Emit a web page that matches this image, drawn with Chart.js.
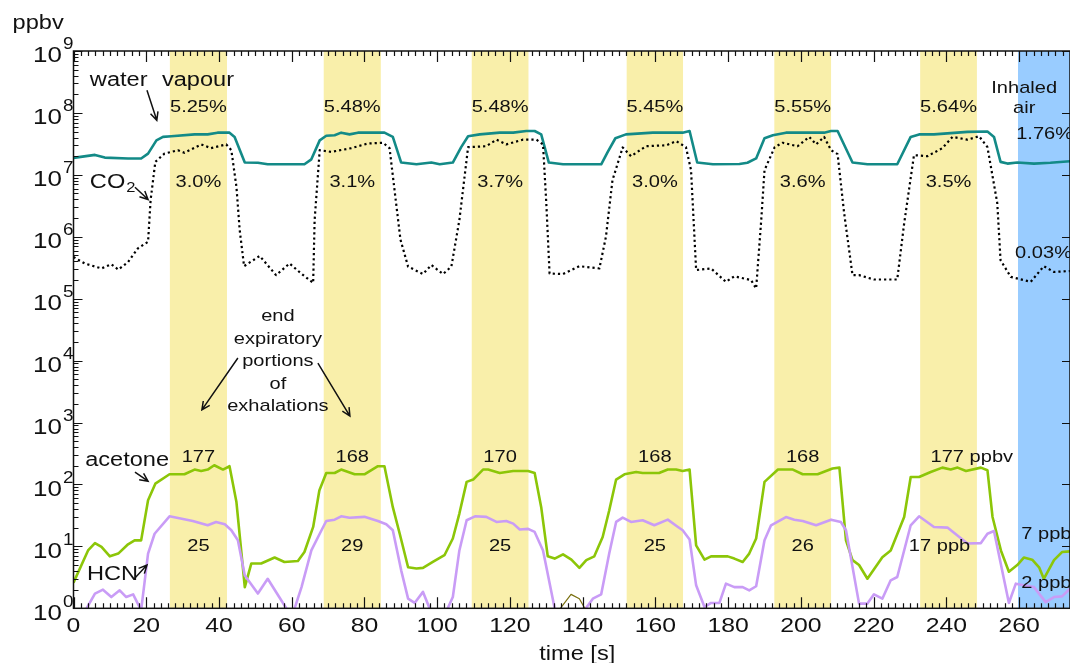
<!DOCTYPE html>
<html>
<head>
<meta charset="utf-8">
<script src="https://cdn.jsdelivr.net/npm/chart.js@4.4.1/dist/chart.umd.min.js"></script>
<style>
  html, body { margin: 0; padding: 0; background: #fff; }
</style>
</head>
<body>
<canvas id="myChart" width="1070" height="663"></canvas>
<script>
// time [s] and ppbv
const waterT = [0,5.9,8.6,15.0,18.6,20.5,22.8,24.6,26.9,33.3,36.9,39.6,42.9,44.3,47.1,50.7,53.4,63.5,65.4,67.7,69.5,71.8,73.6,75.9,78.2,85.5,87.8,90.1,94.3,98.4,100.7,104.3,106.6,108.5,111.7,117.2,120.9,124.5,126.8,128.6,130.7,134.6,145.1,146.9,149.0,151.9,159.3,167.5,169.4,171.5,175.8,183.1,185.3,187.7,190.0,192.3,195.9,206.4,208.3,210.1,214.2,218.3,226.5,230.2,232.5,236.6,245.8,251.3,253.1,254.9,256.8,259.5,264.1,268.6,274]
const waterV = [1.88e7,2.1e7,1.9e7,1.84e7,1.84e7,2.2e7,3.6e7,4.1e7,4.2e7,4.5e7,4.5e7,4.8e7,4.8e7,4.1e7,1.58e7,1.57e7,1.48e7,1.48e7,1.78e7,3.6e7,4.27e7,4.35e7,4.8e7,4.5e7,4.8e7,4.8e7,4.1e7,1.58e7,1.48e7,1.58e7,1.48e7,1.58e7,2.8e7,4.2e7,4.5e7,4.8e7,4.8e7,5.1e7,5.1e7,4.5e7,1.58e7,1.48e7,1.48e7,2.35e7,3.9e7,4.5e7,4.8e7,4.8e7,5.1e7,1.58e7,1.48e7,1.5e7,1.57e7,1.84e7,3.9e7,4.35e7,4.8e7,4.8e7,5.1e7,5.1e7,1.58e7,1.48e7,1.48e7,4.1e7,4.5e7,4.5e7,4.95e7,5.0e7,4.1e7,1.62e7,1.52e7,1.58e7,1.52e7,1.57e7,1.66e7]

const co2T = [0,3.1,7.7,10.4,12.3,15.0,17.7,20.5,21.2,22.5,25.0,28.7,30.5,35.1,37.8,42.0,43.4,44.8,45.7,46.9,51.2,55.7,59.4,62.6,65.9,66.3,67.7,70.9,76.4,80.9,85.1,86.9,88.7,89.9,92.0,96.1,98.4,101.6,103.9,106.1,108.5,113.5,116.3,119.0,123.6,127.3,129.1,130.0,130.9,134.6,139.1,144.6,146.4,148.2,151.0,153.3,157.4,163.0,165.7,168.4,169.8,171.2,175.3,179.4,181.7,186.3,187.7,189.1,190.0,192.8,195.0,199.1,202.3,204.2,206.4,208.3,210.1,211.9,214.2,216.0,220.1,226.5,228.4,231.1,234.8,238.9,241.7,245.8,249.0,251.3,254.0,254.9,257.7,263.2,266.8,269.6,274]
const co2V = [4.7e5,3.7e5,3.08e5,3.6e5,2.95e5,3.9e5,6.5e5,8.3e5,3.9e6,1.62e7,2.2e7,2.5e7,2.27e7,3.1e7,2.7e7,3.1e7,2.5e7,6.4e6,1.28e6,3.35e5,4.9e5,2.4e5,3.7e5,2.55e5,1.8e5,1.86e6,2.5e7,2.35e7,2.7e7,3.2e7,3.3e7,2.7e7,3.5e6,9e5,3.3e5,2.5e5,3.5e5,2.5e5,3.3e5,1.86e6,2.8e7,2.9e7,3.7e7,3.1e7,3.7e7,3.7e7,3.1e7,3.5e6,2.55e5,2.5e5,3.35e5,3.08e5,1.0e6,8.2e6,2.77e7,2.0e7,2.9e7,3.0e7,3.5e7,2.8e7,1.19e7,2.9e5,3.08e5,1.87e5,2.3e5,2.0e5,1.46e5,1.86e6,1.19e7,2.8e7,3.3e7,2.9e7,4.1e7,3.1e7,4.1e7,2.5e7,2.16e7,2.4e6,2.4e5,2.4e5,2.04e5,2.04e5,1.64e6,2.08e7,2.0e7,2.7e7,4.1e7,3.7e7,4.2e7,2.8e7,3.5e6,4.2e5,2.25e5,1.87e5,3.35e5,2.7e5,2.8e5]

const acetoneT = [0,4.0,5.9,7.7,10.0,12.3,15.0,16.8,18.6,20.5,22.5,26.4,30.5,33.3,35.1,36.9,38.7,41.1,42.9,44.8,47.1,48.9,51.6,55.3,58.0,61.7,63.5,65.9,67.6,69.5,71.8,73.6,77.3,80.0,83.7,85.5,87.8,89.7,92.0,94.3,96.1,98.8,102.0,104.3,106.1,108.1,109.9,112.6,114.0,117.2,120.9,125.0,126.8,128.6,130.4,132.3,134.6,136.9,139.1,141.0,143.2,145.5,147.3,149.2,151.5,154.7,156.5,161.0,163.4,165.7,167.5,169.4,171.2,173.5,175.3,179.9,181.7,184.0,185.8,187.7,190.0,193.7,197.8,200.5,204.6,208.7,210.6,212.4,214.2,216.0,218.3,222.4,224.7,228.4,230.2,232.5,235.7,238.9,241.2,243.1,245.4,249.5,251.3,252.7,255.0,257.2,259.5,261.3,263.6,265.5,266.8,269.6,271.8,274]
const acetoneV = [2.6,8.6,11.3,9.8,6.9,7.65,10.8,12.5,12.5,55.6,103,146,146,174,165,174,204,174,197,52,2.2,5.3,5.3,6.6,5.6,5.8,8.1,20.6,80,153,153,174,146,146,197,197,43,16,4.6,4.4,4.5,5.6,7.2,13.4,33.9,110,120,174,174,153,165,165,153,43,6.9,6.35,7.45,6.1,4.5,6.0,6.9,14.2,38,120,146,159,153,153,174,174,165,174,10.4,6.1,6.9,6.9,6.35,5.6,7.65,13.4,110,174,174,146,146,181,187,12.5,6.0,5.0,3.0,6.7,8.6,29.8,132,132,159,187,174,187,165,187,170,29.8,8.6,3.9,5.0,6.6,6.1,4.6,3.0,6.0,8.1,8.3]

const hcnT = [2.5,3.4,5.9,8.1,10.4,12.7,14.5,16.4,18.6,20.5,22.3,26.4,32.8,36.9,39.2,41.6,43.4,45.2,47.1,50.7,53.4,58.5,59.7,60.8,62.7,65.4,67.7,69.5,71.8,73.6,75.9,80.0,83.7,86.0,87.8,90.1,92.0,93.8,96.1,97.9,100.5,102.9,104.3,106.1,108.1,110.4,113.5,116.3,119.0,120.9,122.7,125.0,126.8,129.1,132.3,137.0,140.9,142.8,145.1,147.3,149.2,151.0,153.3,156.5,159.7,163.4,166.2,167.5,169.4,171.2,173.5,175.3,177.6,179.4,181.7,184.0,185.8,187.7,190.0,191.8,195.9,198.2,200.5,204.2,208.3,211.0,212.4,216.0,218.3,220.1,222.4,224.7,226.5,230.2,232.5,236.6,240.3,245.8,249.5,251.3,253.1,257.2,259.1,261.3,264.1,267.3,269.6,271.8,274]
const hcnV = [0.6,0.95,1.73,2.0,1.52,1.95,1.52,1.68,0.93,7.65,16,30.6,25.7,21.9,24.8,22.7,18.2,12.6,3.4,1.73,3.0,1.0,0.8,1.0,2.2,8.6,16,25.7,27,30.6,29,30,25.7,22.7,18.2,4.1,1.43,1.22,1.84,1.0,0.7,1.0,1.52,8.6,26.4,30.6,30,24.8,25.7,23.3,18.7,19.2,17.1,8.6,1.0,0.6,1.0,1.43,1.68,7.65,24.8,29.2,24.8,26.4,21.9,27,20.6,18.2,12.9,2.35,1.05,1.22,1.22,2.5,2.2,2.2,1.95,2.27,12.6,21.9,29.8,27,25.7,21.9,27,24.8,18.2,1.19,1.19,1.68,1.43,2.83,3.2,21.9,30.6,20.6,20.1,11.1,11.3,16,17.7,1.22,2.5,2.35,2.2,1.26,1.52,1.56,2.08]

const oliveT = [133.6,136.8,139.1,140.8]
const oliveV = [0.95,1.68,1.43,0.95]

// end expiratory portions and inhaled air
const bandStart = [26.5,68.8,109.5,152.1,192.7,232.8]
const bandEnd = [42.2,84.5,125.1,167.6,208.3,248.4]
const inhaled = [259.7,274]

const waterPct = ['5.25%','5.48%','5.48%','5.45%','5.55%','5.64%']
const co2Pct = ['3.0%','3.1%','3.7%','3.0%','3.6%','3.5%']
const acetoneLbl = ['177','168','170','168','168','177 ppbv']
const hcnLbl = ['25','29','25','25','26','17 ppb']

const xTicks = [0,20,40,60,80,100,120,140,160,180,200,220,240,260]
const yExps = [0,1,2,3,4,5,6,7,8,9]

const FONT = '"Liberation Sans", Arial, sans-serif'
const SX = 1.18

function pts(t, v) { return t.map((x, i) => ({x: x, y: v[i]})) }

function txt(ctx, s, x, y, size, align) {
    ctx.save()
    ctx.font = size + 'px ' + FONT
    ctx.textAlign = 'left'
    ctx.textBaseline = 'alphabetic'
    const w = ctx.measureText(s).width * SX
    let x0 = x
    if (align == 'center') x0 = x - w / 2
    if (align == 'right') x0 = x - w
    ctx.translate(x0, y + size * 0.36)
    ctx.scale(SX, 1)
    ctx.fillText(s, 0, 0)
    ctx.restore()
    return w
}

function arrow(ctx, x1, y1, x2, y2) {
    const a = Math.atan2(y2 - y1, x2 - x1)
    ctx.beginPath()
    ctx.moveTo(x1, y1); ctx.lineTo(x2, y2)
    ctx.moveTo(x2 - 9 * Math.cos(a - 0.45), y2 - 9 * Math.sin(a - 0.45))
    ctx.lineTo(x2, y2)
    ctx.lineTo(x2 - 9 * Math.cos(a + 0.45), y2 - 9 * Math.sin(a + 0.45))
    ctx.stroke()
}

const notes = [
    {s: 'water', t: 4.5, v: 3.6e8, size: 20},
    {s: 'vapour', t: 24.3, v: 3.6e8, size: 20},
    {s: 'acetone', t: 3.2, v: 257, size: 20},
    {s: 'HCN', t: 3.7, v: 3.72, size: 20},
    {s: 'Inhaled', t: 261.4, v: 2.59e8, size: 17, align: 'center'},
    {s: 'air', t: 261.4, v: 1.23e8, size: 17, align: 'center'},
    {s: '1.76%', t: 259.2, v: 4.7e7, size: 17},
    {s: '0.03%', t: 258.9, v: 5.8e5, size: 17},
    {s: '7 ppb', t: 260.6, v: 16.4, size: 17},
    {s: '2 ppb', t: 260.6, v: 2.66, size: 17}
]
const endLines = ['end','expiratory','portions','of','exhalations']
const arrows = [
    [20.2, 2.32e8, 22.9, 7.6e7],
    [16.9, 6.3e6, 20.5, 4.0e6],
    [45.2, 1.1e4, 35.3, 1.6e3],
    [67.2, 9.1e3, 76.0, 1.27e3],
    [16.9, 158, 20.5, 113],
    [16.9, 3.08, 20.2, 5.0]
]

const decor = {
    id: 'decor',
    beforeDatasetsDraw(chart) {
        const ctx = chart.ctx, a = chart.chartArea, x = chart.scales.x
        ctx.save()
        ctx.fillStyle = '#f9efaa'
        bandStart.forEach((s, i) => {
            const x1 = x.getPixelForValue(s), x2 = x.getPixelForValue(bandEnd[i])
            ctx.fillRect(x1, a.top, x2 - x1, a.bottom - a.top)
        })
        ctx.fillStyle = '#99ccff'
        const b1 = x.getPixelForValue(inhaled[0]), b2 = x.getPixelForValue(inhaled[1])
        ctx.fillRect(b1, a.top, b2 - b1, a.bottom - a.top)
        ctx.restore()
    },
    afterDatasetsDraw(chart) {
        const ctx = chart.ctx, a = chart.chartArea, x = chart.scales.x, y = chart.scales.y
        ctx.save()
        ctx.strokeStyle = '#111'
        ctx.fillStyle = '#111'
        ctx.lineWidth = 1.5

        // frame
        ctx.strokeRect(a.left, a.top, a.right - a.left, a.bottom - a.top)

        // x ticks, bottom and top, pointing inward
        ctx.lineWidth = 1.2
        ctx.beginPath()
        for (let t = 0; t <= 274; t += 2) {
            const px = Math.round(x.getPixelForValue(t)) + 0.5
            const len = t % 20 == 0 ? 11 : 5
            ctx.moveTo(px, a.bottom); ctx.lineTo(px, a.bottom - len)
            ctx.moveTo(px, a.top); ctx.lineTo(px, a.top + len)
        }
        // y ticks, left (major+minor) and right (major)
        for (let e = 0; e <= 9; e++) {
            for (let m = 1; m <= 9; m++) {
                if (e == 9 && m > 1) break
                const py = Math.round(y.getPixelForValue(m * Math.pow(10, e))) + 0.5
                const len = m == 1 ? 9 : 5
                ctx.moveTo(a.left, py); ctx.lineTo(a.left + len, py)
                if (m == 1) { ctx.moveTo(a.right, py); ctx.lineTo(a.right - 8, py) }
            }
        }
        ctx.stroke()

        // tick labels
        xTicks.forEach(t => txt(ctx, String(t), x.getPixelForValue(t), a.bottom + 16, 21, 'center'))
        yExps.forEach(e => {
            const py = y.getPixelForValue(Math.pow(10, e))
            txt(ctx, '10', a.left - 11.5, py + 3.5, 22, 'right')
            txt(ctx, String(e), a.left - 10.5, py - 7.5, 16, 'left')
        })
        txt(ctx, 'time [s]', x.getPixelForValue(138.5), a.bottom + 44, 20, 'center')
        txt(ctx, 'ppbv', a.left - 61, a.top - 29, 20, 'left')

        // band labels
        bandStart.forEach((s, i) => {
            const cx = (x.getPixelForValue(s) + x.getPixelForValue(bandEnd[i])) / 2
            txt(ctx, waterPct[i], cx, y.getPixelForValue(1.28e8), 17, 'center')
            txt(ctx, co2Pct[i], cx, y.getPixelForValue(7.9e6), 17, 'center')
            if (acetoneLbl[i].indexOf('ppb') >= 0) txt(ctx, acetoneLbl[i], cx - 18, y.getPixelForValue(288), 17, 'left')
            else txt(ctx, acetoneLbl[i], cx, y.getPixelForValue(288), 17, 'center')
            if (hcnLbl[i].indexOf('ppb') >= 0) txt(ctx, hcnLbl[i], cx - 9, y.getPixelForValue(10.5), 17, 'center')
            else txt(ctx, hcnLbl[i], cx, y.getPixelForValue(10.5), 17, 'center')
        })

        notes.forEach(n => txt(ctx, n.s, x.getPixelForValue(n.t), y.getPixelForValue(n.v), n.size, n.align || 'left'))

        // CO2 with subscript
        const cx0 = x.getPixelForValue(4.5), cy0 = y.getPixelForValue(7.9e6)
        const wCO = txt(ctx, 'CO', cx0, cy0, 20, 'left')
        txt(ctx, '2', cx0 + wCO + 1, cy0 + 6, 14, 'left')

        const ex = x.getPixelForValue(56.2)
        const ey = y.getPixelForValue(5.42e4)
        endLines.forEach((s, i) => txt(ctx, s, ex, ey + i * 22.5, 17, 'center'))

        ctx.lineWidth = 1.5
        arrows.forEach(r => arrow(ctx, x.getPixelForValue(r[0]), y.getPixelForValue(r[1]), x.getPixelForValue(r[2]), y.getPixelForValue(r[3])))
        ctx.restore()
    }
}

const ctx = document.getElementById('myChart').getContext('2d')
const chart = new Chart(ctx, {
    type: 'line',
    data: {
        datasets: [
            {label: 'olive', data: pts(oliveT, oliveV), borderColor: '#7a7010', borderWidth: 1.2},
            {label: 'CO2', data: pts(co2T, co2V), borderColor: '#000', borderWidth: 2.2, borderDash: [2.2, 3]},
            {label: 'water vapour', data: pts(waterT, waterV), borderColor: '#138a87', borderWidth: 2.6},
            {label: 'HCN', data: pts(hcnT, hcnV), borderColor: '#c99cf6', borderWidth: 2.6},
            {label: 'acetone', data: pts(acetoneT, acetoneV), borderColor: '#8cc608', borderWidth: 2.6}
        ]
    },
    options: {
        responsive: false,
        animation: false,
        devicePixelRatio: 1,
        layout: {padding: {left: 0, top: 51, right: 0, bottom: 0}},
        elements: {point: {radius: 0}, line: {tension: 0, borderJoinStyle: 'round'}},
        plugins: {legend: {display: false}, tooltip: {enabled: false}},
        scales: {
            x: {
                type: 'linear', min: 0, max: 274,
                grid: {display: false}, border: {display: false},
                ticks: {display: false},
                afterFit: s => { s.height = 54.7 }
            },
            y: {
                type: 'logarithmic', min: 1, max: 1e9,
                grid: {display: false}, border: {display: false},
                ticks: {display: false},
                afterFit: s => { s.width = 73.5 }
            }
        }
    },
    plugins: [decor]
})
</script>
</body>
</html>
